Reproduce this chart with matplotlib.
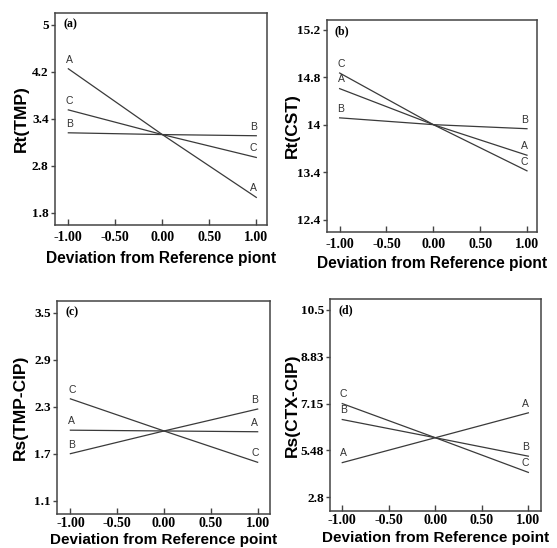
import numpy as np
import matplotlib
matplotlib.use("Agg")
import matplotlib.pyplot as plt

# ---- data ----
x_dev = [-1.0, 0.0, 1.0]
x_ticks = [-1.0, -0.5, 0.0, 0.5, 1.0]
x_tick_labels = ["-1.00", "-0.50", "0.00", "0.50", "1.00"]

a_A = [4.25, 3.13, 2.06]
a_B = [3.16, 3.13, 3.11]
a_C = [3.55, 3.13, 2.74]
a_yticks = [5.0, 4.2, 3.4, 2.6, 1.8]
a_ytick_labels = ["5", "4.2", "3.4", "2.8", "1.8"]

b_A = [14.33, 13.80, 13.35]
b_B = [13.90, 13.80, 13.74]
b_C = [14.56, 13.80, 13.12]
b_yticks = [15.2, 14.5, 13.8, 13.1, 12.4]
b_ytick_labels = ["15.2", "14.8", "14", "13.4", "12.4"]

c_A = [2.00, 1.99, 1.98]
c_B = [1.70, 1.99, 2.27]
c_C = [2.40, 1.99, 1.59]
c_yticks = [3.5, 2.9, 2.3, 1.7, 1.1]
c_ytick_labels = ["3.5", "2.9", "2.3", "1.7", "1.1"]

d_A = [5.04, 5.93, 6.82]
d_B = [6.58, 5.93, 5.27]
d_C = [7.15, 5.93, 4.69]
d_yticks = [10.5, 8.825, 7.15, 5.475, 3.8]
d_ytick_labels = ["10.5", "8.83", "7.15", "5.48", "2.8"]

W, H = 557, 548
fig = plt.figure(figsize=(W / 100, H / 100), dpi=100)

line_col = "#3a3a3a"
frame_col = "#444444"
serif = "Liberation Serif"
sans = "Liberation Sans"


def make_panel(box, series, yticks, ylabels, ylim, xlim, ylabel, xlabel, tag,
               ylab_x, xlab_y, xlab_size=11.2, xpad=4):
    l, r, t, b = box
    ax = fig.add_axes([l / W, 1 - b / H, (r - l) / W, (b - t) / H])
    for name, vals in series:
        ax.plot(x_dev, vals, color=line_col, lw=0.9)
        ax.annotate(name, (x_dev[0], vals[0]), xytext=(1, 3),
                    textcoords="offset points", ha="center", va="bottom",
                    fontsize=7.5, family=sans, color="#333333")
        ax.annotate(name, (x_dev[-1], vals[-1]), xytext=(-2, 3),
                    textcoords="offset points", ha="center", va="bottom",
                    fontsize=7.5, family=sans, color="#333333")
    ax.set_xlim(*xlim)
    ax.set_ylim(*ylim)
    ax.set_xticks(x_ticks)
    ax.set_xticklabels(x_tick_labels, fontsize=10, family=serif,
                       fontweight="bold")
    ax.set_yticks(yticks)
    ax.set_yticklabels(ylabels, fontsize=9.5, family=serif, fontweight="bold")
    ax.tick_params(axis="x", direction="in", length=4, width=1,
                   color=frame_col, pad=xpad)
    ax.tick_params(axis="y", direction="out", length=3, width=1,
                   color=frame_col, pad=1.5)
    for s in ax.spines.values():
        s.set_color(frame_col)
        s.set_linewidth(1.1)
    ax.set_ylabel(ylabel, fontsize=12.5, family=sans, fontweight="bold")
    ax.yaxis.set_label_coords(ylab_x, 0.5)
    ax.set_xlabel(xlabel, fontsize=xlab_size, family=sans, fontweight="bold")
    ax.xaxis.set_label_coords(0.5, xlab_y)
    ax.text(0.038, 0.945, tag, transform=ax.transAxes, ha="left", va="center",
            fontsize=8.5, family=serif, fontweight="bold")
    return ax


make_panel((55, 267, 13, 225), [("A", a_A), ("B", a_B), ("C", a_C)],
           a_yticks, a_ytick_labels, (1.59, 5.2), (-1.142, 1.114),
           "Rt(TMP)", "Deviation from Reference piont", "(a)", -0.125, -0.125)
make_panel((327, 537, 20, 232), [("A", b_A), ("B", b_B), ("C", b_C)],
           b_yticks, b_ytick_labels, (12.22, 15.34), (-1.135, 1.107),
           "Rt(CST)", "Deviation from Reference piont", "(b)", -0.13, -0.112)
make_panel((57, 270, 301, 514), [("A", c_A), ("B", c_B), ("C", c_C)],
           c_yticks, c_ytick_labels, (0.93, 3.649), (-1.143, 1.132),
           "Rs(TMP-CIP)", "Deviation from Reference point", "(c)", -0.137,
           -0.088, xlab_size=11.0, xpad=2.5)
make_panel((330, 541, 299, 511), [("A", d_A), ("B", d_B), ("C", d_C)],
           d_yticks, d_ytick_labels, (3.31, 10.89), (-1.132, 1.136),
           "Rs(CTX-CIP)", "Deviation from Reference point", "(d)", -0.143,
           -0.093, xlab_size=11.0, xpad=2.5)

fig.savefig("out.png", dpi=100, facecolor="white")
